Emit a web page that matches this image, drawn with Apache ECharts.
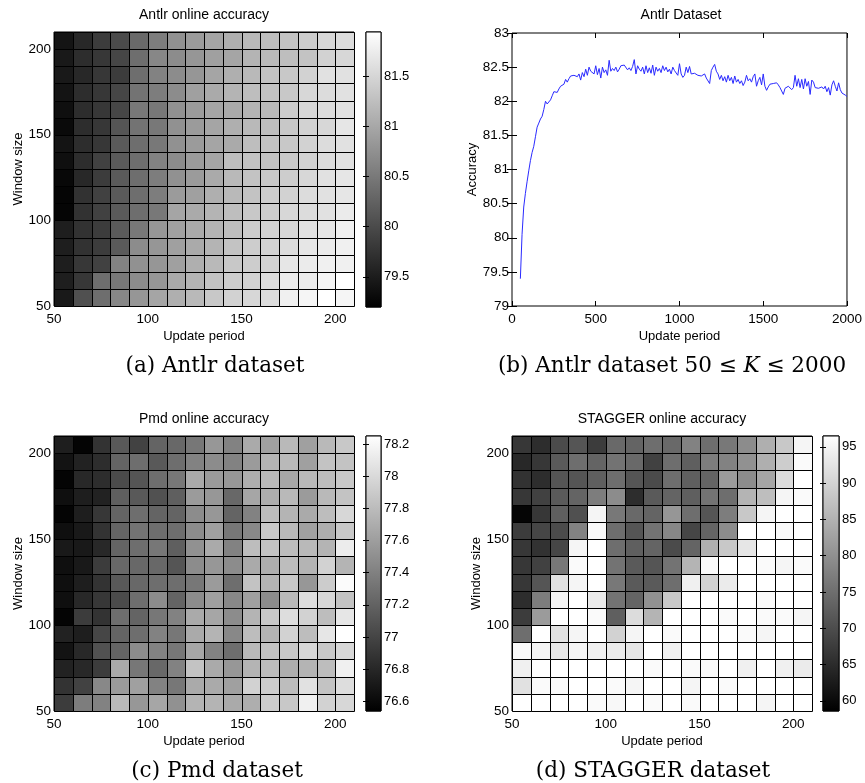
<!DOCTYPE html>
<html>
<head>
<meta charset="utf-8">
<title>Online accuracy</title>
<script src="https://cdn.jsdelivr.net/npm/echarts@6/dist/echarts.min.js"></script>
<style>
  html, body { margin: 0; padding: 0; background: #fff; }
  #chart { width: 865px; height: 783px; }
</style>
</head>
<body>
<div id="chart"></div>
<script>
// cell left edges on the x axis (update period) and rows from top to bottom (window size)
const periods = [50, 60, 70, 80, 90, 100, 110, 120, 130, 140, 150, 160, 170, 180, 190, 200];
const windows = [200, 190, 180, 170, 160, 150, 140, 130, 120, 110, 100, 90, 80, 70, 60, 50];
const cellStep = 10;

// Antlr online accuracy, one row per window size (200 at top)
const antlrAcc = [
  [79.41, 79.63, 79.84, 80.01, 80.33, 80.54, 80.76, 80.87, 80.97, 81.08, 81.19, 81.24, 81.30, 81.40, 81.51, 81.56],
  [79.47, 79.68, 79.79, 79.95, 80.38, 80.65, 80.70, 80.81, 80.92, 80.97, 81.13, 81.19, 81.24, 81.30, 81.46, 81.51],
  [79.47, 79.63, 79.79, 79.84, 80.38, 80.60, 80.70, 80.81, 80.97, 81.08, 81.19, 81.30, 81.35, 81.46, 81.62, 81.62],
  [79.41, 79.68, 79.79, 79.95, 80.44, 80.54, 80.70, 80.92, 81.03, 81.13, 81.24, 81.30, 81.35, 81.51, 81.56, 81.62],
  [79.36, 79.68, 79.79, 79.95, 80.49, 80.49, 80.76, 80.87, 80.97, 81.03, 81.13, 81.19, 81.40, 81.51, 81.56, 81.62],
  [79.31, 79.68, 79.79, 80.11, 80.44, 80.49, 80.76, 80.87, 80.97, 81.08, 81.19, 81.24, 81.35, 81.46, 81.51, 81.67],
  [79.41, 79.68, 79.79, 80.17, 80.38, 80.49, 80.76, 80.87, 80.97, 81.03, 81.24, 81.30, 81.35, 81.46, 81.56, 81.62],
  [79.36, 79.68, 79.90, 80.17, 80.38, 80.60, 80.70, 80.87, 80.97, 81.24, 81.30, 81.30, 81.35, 81.46, 81.56, 81.62],
  [79.29, 79.63, 79.84, 80.17, 80.38, 80.54, 80.76, 80.87, 81.03, 81.19, 81.30, 81.35, 81.40, 81.51, 81.62, 81.67],
  [79.25, 79.74, 79.90, 80.17, 80.38, 80.54, 80.87, 80.92, 81.08, 81.19, 81.30, 81.40, 81.46, 81.56, 81.62, 81.67],
  [79.25, 79.74, 79.90, 80.17, 80.38, 80.49, 80.97, 81.03, 81.13, 81.24, 81.35, 81.40, 81.51, 81.56, 81.62, 81.73],
  [79.52, 79.74, 79.84, 80.17, 80.49, 80.81, 80.92, 81.03, 81.13, 81.24, 81.40, 81.46, 81.51, 81.62, 81.67, 81.78],
  [79.52, 79.74, 79.84, 80.17, 80.70, 80.81, 80.92, 81.03, 81.13, 81.30, 81.40, 81.46, 81.56, 81.67, 81.73, 81.78],
  [79.52, 79.79, 79.90, 80.60, 80.76, 80.81, 80.92, 81.08, 81.19, 81.35, 81.40, 81.46, 81.67, 81.73, 81.78, 81.78],
  [79.52, 79.79, 80.38, 80.49, 80.70, 80.81, 81.03, 81.13, 81.30, 81.40, 81.46, 81.56, 81.73, 81.73, 81.83, 81.94],
  [79.47, 80.06, 80.38, 80.65, 80.81, 80.97, 81.08, 81.19, 81.35, 81.46, 81.51, 81.56, 81.78, 81.83, 81.94, 81.83]
];

// Pmd online accuracy
const pmdAcc = [
  [76.74, 76.57, 76.88, 77.14, 76.98, 77.21, 77.24, 77.34, 77.55, 77.41, 77.68, 77.61, 77.78, 77.61, 77.78, 77.88],
  [76.67, 76.77, 76.84, 77.21, 77.28, 77.14, 77.28, 77.41, 77.48, 77.41, 77.58, 77.75, 77.78, 77.61, 77.85, 77.85],
  [76.57, 76.81, 76.84, 77.04, 77.11, 77.28, 77.34, 77.68, 77.58, 77.55, 77.71, 77.78, 77.65, 77.78, 77.81, 77.88],
  [76.64, 76.74, 76.77, 77.18, 77.14, 77.08, 77.18, 77.58, 77.55, 77.24, 77.65, 77.71, 77.78, 77.58, 77.78, 77.85],
  [76.57, 76.74, 76.91, 77.21, 77.28, 77.21, 77.21, 77.48, 77.55, 77.21, 77.41, 77.81, 77.75, 77.68, 77.81, 77.98],
  [76.64, 76.71, 76.88, 77.21, 77.31, 77.28, 77.28, 77.48, 77.61, 77.34, 77.45, 77.88, 77.78, 77.61, 77.71, 77.88],
  [76.71, 76.71, 76.81, 77.21, 77.28, 77.34, 77.18, 77.51, 77.68, 77.41, 77.81, 77.85, 77.81, 77.78, 77.75, 78.12],
  [76.64, 76.71, 76.94, 77.24, 77.24, 77.24, 77.11, 77.48, 77.55, 77.48, 77.68, 77.71, 77.81, 77.75, 77.95, 77.75],
  [76.64, 76.74, 76.88, 77.14, 77.24, 77.28, 77.28, 77.34, 77.58, 77.28, 77.85, 77.75, 77.88, 77.55, 77.91, 78.22],
  [76.64, 76.81, 76.91, 77.04, 77.28, 77.48, 77.21, 77.48, 77.61, 77.45, 77.61, 77.48, 77.78, 78.02, 77.98, 77.85],
  [76.57, 76.94, 76.88, 77.28, 77.21, 77.34, 77.41, 77.68, 77.65, 77.48, 77.75, 77.88, 78.02, 77.95, 77.81, 78.08],
  [76.77, 76.74, 77.01, 77.21, 77.28, 77.41, 77.34, 77.68, 77.75, 77.45, 77.81, 77.75, 77.95, 77.81, 78.08, 78.25],
  [76.67, 76.81, 77.08, 77.21, 77.48, 77.41, 77.34, 77.65, 77.41, 77.28, 77.78, 77.85, 77.88, 77.98, 77.88, 77.98],
  [76.77, 76.81, 76.94, 77.68, 77.34, 77.24, 77.41, 77.85, 77.68, 77.55, 77.75, 77.81, 77.71, 77.75, 77.81, 78.15],
  [76.88, 76.98, 77.45, 77.58, 77.61, 77.41, 77.34, 77.68, 77.68, 77.61, 77.95, 77.91, 77.81, 78.05, 77.85, 78.02],
  [76.94, 77.38, 77.41, 77.78, 77.55, 77.65, 77.51, 77.75, 77.75, 77.68, 77.71, 77.91, 77.88, 78.15, 77.95, 77.98]
];

// STAGGER online accuracy
const staggerAcc = [
  [66.8, 65.3, 69.7, 71.2, 67.5, 74.2, 73.5, 74.9, 74.2, 77.9, 74.9, 76.4, 79.4, 84.6, 88.3, 95.0],
  [64.5, 66.8, 72.0, 74.9, 73.5, 75.7, 74.2, 68.3, 74.9, 72.7, 77.2, 77.9, 80.1, 84.6, 89.1, 95.8],
  [66.0, 65.3, 71.2, 71.2, 72.7, 74.9, 71.2, 69.7, 74.9, 72.7, 73.5, 81.6, 79.4, 83.1, 91.3, 96.5],
  [66.8, 68.3, 72.0, 73.5, 77.2, 79.4, 65.3, 72.0, 73.5, 72.7, 75.7, 74.9, 85.3, 86.8, 95.0, 95.8],
  [59.3, 66.8, 72.7, 70.5, 95.0, 76.4, 74.2, 73.5, 80.9, 74.9, 71.2, 77.2, 88.3, 95.0, 96.5, 96.5],
  [67.5, 69.0, 69.7, 77.9, 95.8, 74.9, 71.2, 75.7, 78.7, 69.0, 73.5, 79.4, 96.5, 96.5, 95.8, 96.5],
  [66.8, 66.0, 69.0, 95.0, 96.5, 74.9, 72.7, 73.5, 69.7, 73.5, 84.6, 88.3, 92.8, 96.5, 96.5, 96.5],
  [66.8, 68.3, 76.4, 95.8, 96.5, 75.7, 72.0, 71.2, 75.7, 85.3, 95.8, 96.5, 96.5, 95.8, 95.0, 95.8],
  [66.8, 71.2, 92.0, 95.0, 96.5, 76.4, 72.0, 72.0, 74.9, 94.3, 89.8, 93.5, 96.5, 96.5, 96.5, 96.5],
  [65.3, 77.2, 95.0, 96.5, 93.5, 75.7, 73.5, 80.1, 88.3, 96.5, 96.5, 96.5, 96.5, 95.8, 96.5, 96.5],
  [67.5, 81.6, 96.5, 96.5, 95.8, 72.7, 91.3, 85.3, 96.5, 96.5, 96.5, 95.8, 96.5, 95.8, 95.8, 95.0],
  [74.9, 96.5, 92.0, 95.0, 96.5, 89.8, 95.0, 96.5, 95.8, 96.5, 96.5, 96.5, 95.8, 95.0, 96.5, 96.5],
  [95.8, 95.0, 92.8, 95.0, 94.3, 93.5, 92.8, 96.5, 94.3, 96.5, 96.5, 96.5, 96.5, 96.5, 96.5, 96.5],
  [94.3, 96.5, 96.5, 96.5, 96.5, 96.5, 96.5, 95.8, 96.5, 95.8, 95.8, 96.5, 94.3, 96.5, 94.3, 93.5],
  [92.0, 95.8, 95.8, 96.5, 96.5, 95.8, 95.0, 96.5, 96.5, 95.0, 96.5, 95.8, 96.5, 96.5, 96.5, 96.5],
  [96.5, 96.5, 96.5, 96.5, 95.8, 95.5, 96.5, 95.8, 96.5, 95.8, 96.5, 96.5, 96.5, 95.0, 96.5, 96.5]
];

// colour bar limits and tick labels
const antlrRange = [79.2, 81.94];
const pmdRange = [76.54, 78.25];
const staggerRange = [58.6, 96.5];
const antlrTicks = [79.5, 80, 80.5, 81, 81.5];
const pmdTicks = [76.6, 76.8, 77, 77.2, 77.4, 77.6, 77.8, 78, 78.2];
const staggerTicks = [60, 65, 70, 75, 80, 85, 90, 95];

// Antlr accuracy over update period 50..2000
const sweepPeriods = [
  50, 60, 70, 80, 90, 100, 110, 120, 130, 140,
  150, 160, 170, 180, 190, 200, 210, 220, 230, 240,
  250, 260, 270, 280, 290, 300, 310, 320, 330, 340,
  350, 360, 370, 380, 390, 400, 410, 420, 430, 440,
  450, 460, 470, 480, 490, 500, 510, 520, 530, 540,
  550, 560, 570, 580, 590, 600, 610, 620, 630, 640,
  650, 660, 670, 680, 690, 700, 710, 720, 730, 740,
  750, 760, 770, 780, 790, 800, 810, 820, 830, 840,
  850, 860, 870, 880, 890, 900, 910, 920, 930, 940,
  950, 960, 970, 980, 990, 1000, 1010, 1020, 1030, 1040,
  1050, 1060, 1070, 1080, 1090, 1100, 1110, 1120, 1130, 1140,
  1150, 1160, 1170, 1180, 1190, 1200, 1210, 1220, 1230, 1240,
  1250, 1260, 1270, 1280, 1290, 1300, 1310, 1320, 1330, 1340,
  1350, 1360, 1370, 1380, 1390, 1400, 1410, 1420, 1430, 1440,
  1450, 1460, 1470, 1480, 1490, 1500, 1510, 1520, 1530, 1540,
  1550, 1560, 1570, 1580, 1590, 1600, 1610, 1620, 1630, 1640,
  1650, 1660, 1670, 1680, 1690, 1700, 1710, 1720, 1730, 1740,
  1750, 1760, 1770, 1780, 1790, 1800, 1810, 1820, 1830, 1840,
  1850, 1860, 1870, 1880, 1890, 1900, 1910, 1920, 1930, 1940,
  1950, 1960, 1970, 1980, 1990, 2000
];
const sweepAcc = [
  79.40, 80.05, 80.45, 80.65, 80.82, 80.98, 81.13, 81.25, 81.34, 81.48,
  81.62, 81.68, 81.74, 81.78, 81.88, 82.00, 81.96, 81.95, 82.02, 82.08,
  82.14, 82.16, 82.13, 82.18, 82.22, 82.24, 82.25, 82.32, 82.28, 82.33,
  82.37, 82.39, 82.38, 82.39, 82.36, 82.40, 82.31, 82.42, 82.36, 82.47,
  82.38, 82.50, 82.44, 82.45, 82.40, 82.52, 82.39, 82.48, 82.34, 82.50,
  82.42, 82.46, 82.38, 82.60, 82.44, 82.48, 82.45, 82.50, 82.43, 82.47,
  82.52, 82.50, 82.53, 82.52, 82.46, 82.49, 82.45, 82.51, 82.61, 82.40,
  82.52, 82.47, 82.44, 82.50, 82.40, 82.52, 82.42, 82.49, 82.41, 82.53,
  82.38, 82.50, 82.44, 82.48, 82.42, 82.52, 82.45, 82.50, 82.43, 82.47,
  82.40, 82.50, 82.45, 82.47, 82.38, 82.55, 82.40, 82.35, 82.38, 82.50,
  82.42, 82.51, 82.40, 82.42, 82.41, 82.40, 82.38, 82.39, 82.37, 82.36,
  82.40, 82.34, 82.33, 82.26, 82.45, 82.50, 82.54, 82.44, 82.40, 82.32,
  82.38, 82.30, 82.36, 82.28, 82.38, 82.30, 82.35, 82.26, 82.37, 82.28,
  82.32, 82.26, 82.30, 82.23, 82.28, 82.38, 82.30, 82.33, 82.28, 82.36,
  82.40, 82.22, 82.30, 82.35, 82.24, 82.40, 82.22, 82.16, 82.21, 82.25,
  82.26, 82.26, 82.25, 82.27, 82.24, 82.20, 82.15, 82.10, 82.19, 82.18,
  82.22, 82.20, 82.17, 82.20, 82.38, 82.22, 82.33, 82.20, 82.32, 82.18,
  82.33, 82.22, 82.29, 82.10, 82.31, 82.28, 82.20, 82.22, 82.19, 82.20,
  82.21, 82.18, 82.22, 82.14, 82.20, 82.09, 82.24, 82.30, 82.22, 82.15,
  82.27, 82.17, 82.12, 82.10, 82.09, 82.07
];

const SANS = '"Liberation Sans", Arial, Helvetica, sans-serif';
const SERIF = '"DejaVu Serif", "Liberation Serif", serif';
const tickFont = { color: '#000', fontFamily: SANS, fontSize: 13.5 };
const nameFont = { color: '#000', fontFamily: SANS, fontSize: 13 };
const plainNumber = v => String(v);

const chart = echarts.init(document.getElementById('chart'));

function cells(grid) {
  const out = [];
  windows.forEach((w, i) => {
    periods.forEach((p, j) => out.push([p, w, grid[i][j]]));
  });
  return out;
}

function renderCell(params, api) {
  const x = api.value(0);
  const y = api.value(1);
  const p0 = api.coord([x, y + cellStep]);
  const p1 = api.coord([x + cellStep, y]);
  const x0 = Math.round(p0[0]) + 0.5;
  const y0 = Math.round(p0[1]) + 0.5;
  const x1 = Math.round(p1[0]) + 0.5;
  const y1 = Math.round(p1[1]) + 0.5;
  return {
    type: 'rect',
    shape: { x: x0, y: y0, width: x1 - x0, height: y1 - y0 },
    style: { fill: api.visual('color'), stroke: '#000', lineWidth: 1 }
  };
}

function renderBar(params, api) {
  const lo = api.coord([0, api.value(0)]);
  const hi = api.coord([1, api.value(1)]);
  return {
    type: 'rect',
    shape: { x: lo[0], y: hi[1], width: hi[0] - lo[0], height: lo[1] - hi[1] },
    style: {
      fill: new echarts.graphic.LinearGradient(0, 0, 0, 1, [
        { offset: 0, color: '#ffffff' },
        { offset: 1, color: '#000000' }
      ]),
      stroke: '#000',
      lineWidth: 1
    }
  };
}

// heat map axes
function heatX(gridIndex) {
  return {
    type: 'value', gridIndex: gridIndex, min: 50, max: 210, interval: 50,
    axisLine: { show: false }, axisTick: { show: false }, splitLine: { show: false },
    axisLabel: Object.assign({ margin: 6, showMaxLabel: false }, tickFont),
    name: 'Update period', nameLocation: 'middle', nameGap: 24, nameTextStyle: nameFont
  };
}
function heatY(gridIndex) {
  return {
    type: 'value', gridIndex: gridIndex, min: 50, max: 210, interval: 50,
    axisLine: { show: false }, axisTick: { show: false }, splitLine: { show: false },
    axisLabel: Object.assign({ margin: 3, showMaxLabel: false }, tickFont),
    name: 'Window size', nameLocation: 'middle', nameGap: 29, nameTextStyle: nameFont
  };
}
// colour bar axes
function barX(gridIndex) {
  return { type: 'value', gridIndex: gridIndex, min: 0, max: 1, show: false };
}
function barY(gridIndex, range, ticks, withLabels) {
  return {
    type: 'value', gridIndex: gridIndex, min: range[0], max: range[1],
    position: withLabels ? 'right' : 'left', z: 5,
    axisLine: { show: false }, splitLine: { show: false },
    axisTick: { show: true, inside: true, length: 3, customValues: ticks, lineStyle: { color: '#000' } },
    axisLabel: Object.assign({ show: withLabels, margin: 3, customValues: ticks }, tickFont, { fontSize: 13 })
  };
}

const gridBox = { show: true, borderColor: '#000', borderWidth: 1, backgroundColor: 'transparent', containLabel: false };

function titleAt(text, left, top) {
  return {
    text: text, left: left, top: top, textAlign: 'center', padding: 0,
    textStyle: { color: '#000', fontFamily: SANS, fontSize: 14, fontWeight: 'normal' }
  };
}
function captionAt(text, left, top) {
  return {
    text: text, left: left, top: top, textAlign: 'center', padding: 0,
    textStyle: {
      color: '#000', fontFamily: SERIF, fontSize: 21.5, fontWeight: 'normal',
      rich: { k: { fontFamily: SERIF, fontSize: 21.5, fontStyle: 'italic', color: '#000' } }
    }
  };
}

const option = {
  animation: false,
  backgroundColor: '#fff',
  title: [
    titleAt('Antlr online accuracy', 204, 8),
    titleAt('Antlr Dataset', 681, 8),
    titleAt('Pmd online accuracy', 204, 412),
    titleAt('STAGGER online accuracy', 662, 412),
    captionAt('(a) Antlr dataset', 215, 355),
    captionAt('(b) Antlr dataset 50 \u2264 {k|K} \u2264 2000', 672, 355),
    captionAt('(c) Pmd dataset', 217, 760),
    captionAt('(d) STAGGER dataset', 653, 760)
  ],
  grid: [
    Object.assign({ left: 54, top: 32, width: 300, height: 274 }, gridBox),
    Object.assign({ left: 366, top: 32, width: 15, height: 275 }, gridBox),
    Object.assign({ left: 512, top: 33, width: 338, height: 273 }, gridBox),
    Object.assign({ left: 54, top: 436, width: 300, height: 275 }, gridBox),
    Object.assign({ left: 366, top: 436, width: 15, height: 275 }, gridBox),
    Object.assign({ left: 512, top: 436, width: 300, height: 275 }, gridBox),
    Object.assign({ left: 823, top: 436, width: 16, height: 275 }, gridBox)
  ],
  xAxis: [
    heatX(0),
    barX(1),
    {
      type: 'value', gridIndex: 2, min: 0, max: 2000, interval: 500,
      axisLine: { show: false }, splitLine: { show: false },
      axisTick: { inside: true, length: 5, lineStyle: { color: '#000' } },
      axisLabel: Object.assign({ margin: 6, formatter: plainNumber }, tickFont),
      name: 'Update period', nameLocation: 'middle', nameGap: 24, nameTextStyle: nameFont
    },
    {
      type: 'value', gridIndex: 2, min: 0, max: 2000, interval: 500, position: 'top',
      axisLine: { show: false }, splitLine: { show: false }, axisLabel: { show: false },
      axisTick: { inside: true, length: 5, lineStyle: { color: '#000' } }
    },
    heatX(3),
    barX(4),
    heatX(5),
    barX(6)
  ],
  yAxis: [
    heatY(0),
    barY(1, antlrRange, antlrTicks, true),
    barY(1, antlrRange, antlrTicks, false),
    {
      type: 'value', gridIndex: 2, min: 79, max: 83, interval: 0.5,
      axisLine: { show: false }, splitLine: { show: false },
      axisTick: { inside: true, length: 5, lineStyle: { color: '#000' } },
      axisLabel: Object.assign({ margin: 3, formatter: plainNumber }, tickFont),
      name: 'Accuracy', nameLocation: 'middle', nameGap: 32, nameTextStyle: nameFont
    },
    {
      type: 'value', gridIndex: 2, min: 79, max: 83, interval: 0.5, position: 'right',
      axisLine: { show: false }, splitLine: { show: false }, axisLabel: { show: false },
      axisTick: { inside: true, length: 5, lineStyle: { color: '#000' } }
    },
    heatY(3),
    barY(4, pmdRange, pmdTicks, true),
    barY(4, pmdRange, pmdTicks, false),
    heatY(5),
    barY(6, staggerRange, staggerTicks, true),
    barY(6, staggerRange, staggerTicks, false)
  ],
  visualMap: [
    { type: 'continuous', show: false, seriesIndex: 0, dimension: 2, min: antlrRange[0], max: antlrRange[1], inRange: { color: ['#000000', '#ffffff'] } },
    { type: 'continuous', show: false, seriesIndex: 3, dimension: 2, min: pmdRange[0], max: pmdRange[1], inRange: { color: ['#000000', '#ffffff'] } },
    { type: 'continuous', show: false, seriesIndex: 5, dimension: 2, min: staggerRange[0], max: staggerRange[1], inRange: { color: ['#000000', '#ffffff'] } }
  ],
  series: [
    { type: 'custom', xAxisIndex: 0, yAxisIndex: 0, renderItem: renderCell, data: cells(antlrAcc) },
    { type: 'custom', xAxisIndex: 1, yAxisIndex: 1, renderItem: renderBar, data: [antlrRange] },
    {
      type: 'line', xAxisIndex: 2, yAxisIndex: 3, showSymbol: false, symbol: 'none',
      lineStyle: { color: '#2a2aff', width: 1 },
      data: sweepPeriods.map((p, i) => [p, sweepAcc[i]])
    },
    { type: 'custom', xAxisIndex: 4, yAxisIndex: 5, renderItem: renderCell, data: cells(pmdAcc) },
    { type: 'custom', xAxisIndex: 5, yAxisIndex: 6, renderItem: renderBar, data: [pmdRange] },
    { type: 'custom', xAxisIndex: 6, yAxisIndex: 8, renderItem: renderCell, data: cells(staggerAcc) },
    { type: 'custom', xAxisIndex: 7, yAxisIndex: 9, renderItem: renderBar, data: [staggerRange] }
  ]
};

chart.setOption(option);
</script>
</body>
</html>
